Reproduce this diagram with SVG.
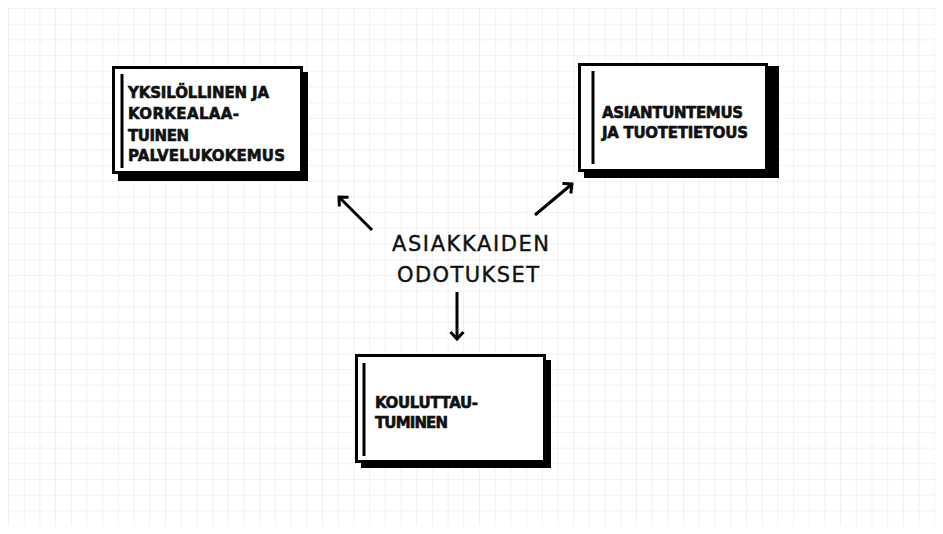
<svg xmlns="http://www.w3.org/2000/svg" width="943" height="534" viewBox="0 0 943 534">
  <defs>
    <pattern id="grid" x="8" y="8" width="15.7" height="15.7" patternUnits="userSpaceOnUse">
      <path d="M0,0 H15.7 M0,0 V15.7" fill="none" stroke="#e6e6e6" stroke-width="1.2"/>
    </pattern>
    <marker id="head" viewBox="-10 -9 12 18" markerWidth="12" markerHeight="18" refX="0" refY="0" orient="auto" markerUnits="userSpaceOnUse">
      <path d="M-7,-6.5 L0,0 L-7,6.5" fill="none" stroke="#000" stroke-width="3" stroke-linejoin="miter"/>
    </marker>
  </defs>
  <style>
    .shadow { fill: #000; }
    .card { fill: #fff; stroke: #000; stroke-width: 3; }
    .bar { stroke: #000; stroke-width: 3; }
    .label { font-family: "DejaVu Sans", "Noto Sans", sans-serif; font-weight: 700; font-size: 15px; fill: #111; stroke: #111; stroke-width: 0.6px; }
    .hub { font-family: "DejaVu Sans", "Noto Sans", sans-serif; font-weight: 400; font-size: 21px; fill: #111; stroke: #111; stroke-width: 0.4px; }
    .link { stroke: #000; stroke-width: 3; fill: none; marker-end: url(#head); }
  </style>

  <rect width="943" height="534" fill="#fff"/>
  <rect x="8" y="8" width="927" height="518" fill="url(#grid)"/>

  <g id="node-palvelukokemus">
    <rect class="shadow" x="118" y="72" width="190" height="109"/>
    <rect class="card" x="113.5" y="67.5" width="188" height="105"/>
    <line class="bar" x1="122" y1="74" x2="122" y2="168"/>
    <text class="label" x="128" y="98" textLength="141">YKSILÖLLINEN JA</text>
    <text class="label" x="128" y="119" textLength="111">KORKEALAA-</text>
    <text class="label" x="128" y="141" textLength="61">TUINEN</text>
    <text class="label" x="128" y="161" textLength="157">PALVELUKOKEMUS</text>
  </g>

  <g id="node-asiantuntemus">
    <rect class="shadow" x="584" y="66" width="195" height="112"/>
    <rect class="card" x="579.5" y="64.5" width="187" height="106"/>
    <line class="bar" x1="593" y1="71" x2="593" y2="164"/>
    <text class="label" x="602" y="118" textLength="141">ASIANTUNTEMUS</text>
    <text class="label" x="602" y="138" textLength="146">JA TUOTETIETOUS</text>
  </g>

  <g id="node-kouluttautuminen">
    <rect class="shadow" x="361" y="360" width="190" height="108"/>
    <rect class="card" x="356.5" y="355.5" width="188" height="106"/>
    <line class="bar" x1="364" y1="363" x2="364" y2="456"/>
    <text class="label" x="375" y="408" textLength="103">KOULUTTAU-</text>
    <text class="label" x="375" y="428" textLength="73">TUMINEN</text>
  </g>

  <g id="node-odotukset">
    <text class="hub" x="392" y="251" textLength="157">ASIAKKAIDEN</text>
    <text class="hub" x="397" y="282" textLength="142">ODOTUKSET</text>
  </g>

  <g id="connectors">
    <line class="link" x1="372" y1="230" x2="339" y2="197"/>
    <line class="link" x1="535" y1="215" x2="572" y2="184"/>
    <line class="link" x1="457" y1="292" x2="457" y2="339"/>
  </g>
</svg>
